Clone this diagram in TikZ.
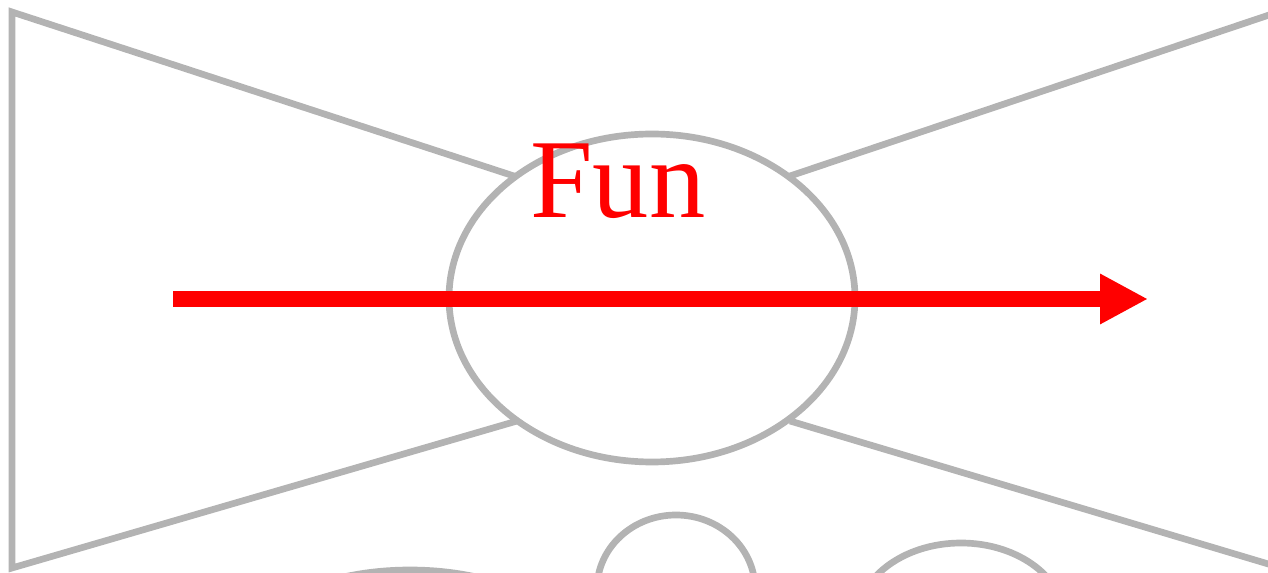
\documentclass[tikz,border=0pt]{standalone}
\usepackage{fontspec}
\setmainfont{Liberation Serif}
\usetikzlibrary{arrows.meta,shapes.geometric}
\definecolor{edgegray}{RGB}{179,179,179}
\definecolor{funred}{RGB}{255,0,0}
\tikzset{
  outline/.style={draw=edgegray,line width=3.8pt,line join=miter},
  oval/.style={ellipse,outline,inner sep=0pt},
  bigarrow/.style={draw=funred,line width=9.1pt,-{Triangle[length=27.3pt,width=26.8pt,fill=funred]}},
}
\begin{document}
\begin{tikzpicture}[x=0.02cm,y=-0.02cm]
\useasboundingbox (0,0) rectangle (1268,573);
\clip (0,0) rectangle (1268,573);
% bottom partial ovals
\node[oval,minimum width=360*0.02cm,minimum height=200*0.02cm] (b1) at (410,670) {};
\node[oval,minimum width=158*0.02cm,minimum height=148*0.02cm] (b2) at (676,589) {};
\node[oval,minimum width=210*0.02cm,minimum height=160*0.02cm] (b3) at (961,623) {};
% central ellipse
\node[oval,minimum width=406*0.02cm,minimum height=328*0.02cm] (e) at (652,298) {};
% bow-tie corners
\coordinate (tl) at (12,12);
\coordinate (bl) at (12,568);
\coordinate (tr) at (1275,13);
\coordinate (br) at (1275,566);
\coordinate (etl) at (517,177);
\coordinate (ebl) at (517,421);
\coordinate (etr) at (790,176);
\coordinate (ebr) at (790,421);
\draw[outline] (etl) -- (tl) -- (bl) -- (ebl);
\draw[outline] (etr) -- (tr);
\draw[outline] (ebr) -- (br);
% label
\node[text=funred,anchor=base west,inner sep=0pt,font=\fontsize{64}{77}\selectfont] (fun) at (530,218) {Fun};
% arrow
\coordinate (as) at (173,299);
\coordinate (ae) at (1148,299);
\draw[bigarrow] (as) -- (ae);
\end{tikzpicture}
\end{document}
